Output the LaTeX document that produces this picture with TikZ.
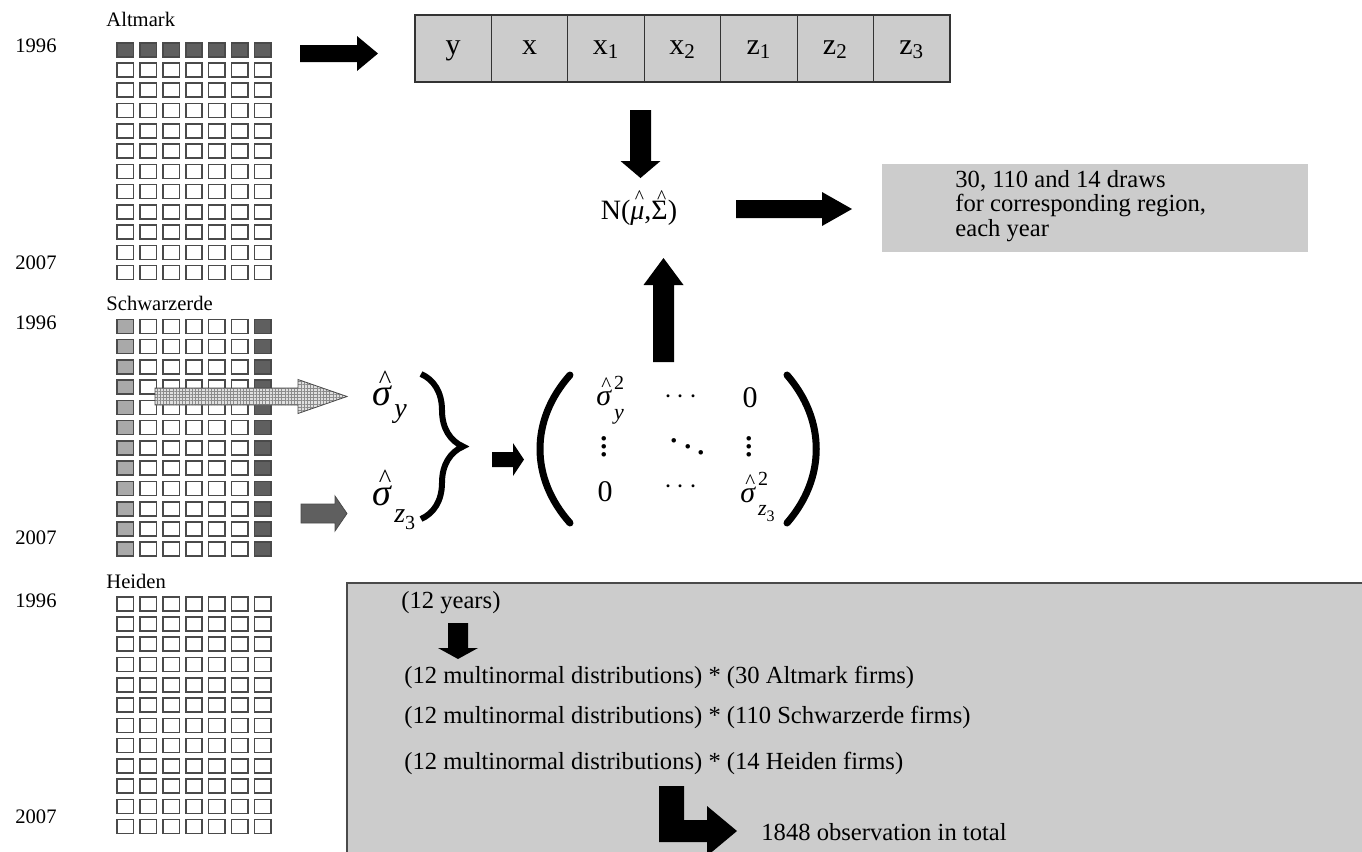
\documentclass[tikz,border=0pt]{standalone}
\usepackage{fontspec}
\usepackage{graphicx}
\setmainfont{Liberation Serif}
\usetikzlibrary{decorations.pathreplacing,patterns.meta}

\definecolor{boxgray}{HTML}{CCCCCC}
\definecolor{darkcell}{HTML}{5F5F5F}
\definecolor{lightcell}{HTML}{A9A9A9}
\definecolor{edgegray}{HTML}{4A4A4A}

\newcommand{\sz}[1]{\fontsize{#1}{#1}\selectfont}
% caret set over a letter
\newcommand{\hatted}[2][0.46em]{{\ooalign{\hfil\kern0.14em\raisebox{#1}{\scalebox{0.7}{\textasciicircum}}\hfil\cr#2\cr}}}
% superscript stacked over subscript
\newcommand{\subsup}[2]{\rlap{\raisebox{0.55em}{\sz{10}#1}}\raisebox{-0.45em}{\sz{11}#2}}

% block arrows: [style]{start}{tip}{head base}{centre}{half shaft}{half head}
\newcommand{\harrow}[7][fill=black]{%
  \path[#1] (#2,{#5-#6}) -- (#4,{#5-#6}) -- (#4,{#5-#7}) -- (#3,#5)
    -- (#4,{#5+#7}) -- (#4,{#5+#6}) -- (#2,{#5+#6}) -- cycle;}
\newcommand{\varrow}[7][fill=black]{%
  \path[#1] ({#2-#6},#3) -- ({#2-#6},#5) -- ({#2-#7},#5) -- (#2,#4)
    -- ({#2+#7},#5) -- ({#2+#6},#5) -- ({#2+#6},#3) -- cycle;}

\tikzset{
  firm/.style={draw=edgegray, line width=0.8pt, fill=white},
  yearlbl/.style={anchor=west, inner sep=0, font=\sz{10.3}},
  txt/.style={anchor=west, inner sep=0, font=\fontsize{12.3}{12.25}\selectfont},
  cell/.style={draw=black!80, line width=0.6pt, fill=boxgray, minimum width=38.2pt,
    minimum height=33.5pt, inner sep=0, text height=1.2ex, text depth=0pt, font=\sz{15}},
  entry/.style={inner sep=0, font=\sz{15}},
  dots/.style={inner sep=0, font=\sz{19}},
  hatched/.style={draw=edgegray, line width=0.4pt, preaction={fill=black!12},
    pattern={Hatch[distance=1.6pt, angle=0, line width=0.3pt]}, pattern color=black!45},
  darkarrow/.style={draw=edgegray, line width=0.4pt, fill=darkcell},
  paren/.style={line width=3.5pt, line cap=round},
  bigbrace/.style={decorate, decoration={brace, amplitude=21pt}, line width=3pt}
}

\begin{document}
\begin{tikzpicture}[x=0.5pt,y=-0.5pt]
  \useasboundingbox (0,0) rectangle (1362,852);
  \clip (0,0) rectangle (1362,852);

  % region panels: firms by year
  \foreach \top in {42.7,319.3,596.7}
    \foreach \r in {0,...,11}
      \foreach \c in {0,...,6}
        \draw[firm] ({117+22.9*\c},{\top+20.27*\r}) rectangle +(16.5,14);
  \foreach \c in {0,...,6}
    \draw[firm, fill=darkcell] ({117+22.9*\c},42.7) rectangle +(16.5,14);
  \foreach \r in {0,...,11} {
    \draw[firm, fill=lightcell] (117,{319.3+20.27*\r}) rectangle +(16.5,14);
    \draw[firm, fill=darkcell] ({117+22.9*6},{319.3+20.27*\r}) rectangle +(16.5,14);
  }

  \node[yearlbl] (altmark) at (106,19) {Altmark};
  \node[yearlbl] (alt96) at (15,46) {1996};
  \node[yearlbl] (alt07) at (15,263) {2007};
  \node[yearlbl] (schwarz) at (106,303) {Schwarzerde};
  \node[yearlbl] (sch96) at (15,323) {1996};
  \node[yearlbl] (sch07) at (15,538) {2007};
  \node[yearlbl] (heiden) at (106,581) {Heiden};
  \node[yearlbl] (hei96) at (15,601) {1996};
  \node[yearlbl] (hei07) at (15,817) {2007};

  % variables of one firm-year
  \foreach \lbl [count=\i] in {y, x, x\textsubscript{1}, x\textsubscript{2},
      z\textsubscript{1}, z\textsubscript{2}, z\textsubscript{3}}
    \node[cell] (var\i) at ({415+76.43*(\i-0.5)},48.5) {\lbl};

  \harrow{300}{378}{357}{53.5}{8.5}{17.5}
  \varrow{640.5}{110}{178}{161}{10.5}{20}

  \node[inner sep=0, font=\sz{14}] (normal) at (639,208)
    {N(\hatted[0.56em]{\textit{μ}},\hatted[0.56em]{Σ})};
  \harrow{736}{852}{822}{209}{9}{17}

  \node[fill=boxgray, anchor=north west, minimum width=213pt, minimum height=44pt,
    inner sep=0] (draws) at (882,164) {};
  \node[txt, align=left] (drawtext) at (955,206)
    {30, 110 and 14 draws\\for corresponding region,\\each year};

  % standard deviations per variable
  \harrow[hatched]{155}{347}{298}{396.5}{8.5}{17}
  \harrow[darkarrow]{301}{347}{335}{513.5}{9.5}{17.5}
  \node[anchor=west, inner sep=0, font=\sz{19}] (sigy) at (372,397)
    {\hatted{\textit{σ}}\kern1pt\raisebox{-0.3em}{\sz{14}\textit{y}}};
  \node[anchor=west, inner sep=0, font=\sz{19}] (sigz) at (372,500)
    {\hatted{\textit{σ}}\kern1pt\raisebox{-0.45em}{\sz{14}\textit{z}\raisebox{-0.25em}{\sz{10}3}}};
  \draw[bigbrace] (421,374) -- (421,519);
  \harrow{492}{524}{513}{459.5}{7.5}{16.5}

  % diagonal covariance matrix
  \draw[paren] (570,375) .. controls (530,420) and (530,478) .. (570,523);
  \draw[paren] (787,375) .. controls (826,420) and (826,478) .. (787,523);
  \node[entry, anchor=west] (m11) at (596,400)
    {\hatted{\textit{σ}}\kern1pt\subsup{2}{\textit{y}}};
  \node[entry] (m12) at (681,397) {$\cdots$};
  \node[entry] (m13) at (750,398) {0};
  \node[dots] (m21) at (604,441) {$\vdots$};
  \node[dots] (m22) at (688,441) {$\ddots$};
  \node[dots] (m23) at (749,441) {$\vdots$};
  \node[entry] (m31) at (605,492) {0};
  \node[entry] (m32) at (681,487) {$\cdots$};
  \node[entry, anchor=west] (m33) at (740,497)
    {\hatted{\textit{σ}}\kern1pt\subsup{2}{\textit{z}\raisebox{-0.25em}{\sz{8}3}}};
  \varrow{663.5}{362}{258}{285}{10.5}{20}

  % resulting sample
  \draw[draw=edgegray, line width=0.8pt, fill=boxgray] (347,583) rectangle (1420,920);
  \node[txt] (years) at (401,603) {(12 years)};
  \varrow{458}{623}{659}{648}{10}{20}
  \node[txt] (altfirms) at (404,677)
    {(12 multinormal distributions) * (30 Altmark firms)};
  \node[txt] (schfirms) at (404,717)
    {(12 multinormal distributions) * (110 Schwarzerde firms)};
  \node[txt] (heifirms) at (404,763)
    {(12 multinormal distributions) * (14 Heiden firms)};
  \fill (659,786) -- (684,786) -- (684,820) -- (707,820) -- (707,806) -- (737,831)
    -- (707,856) -- (707,842) -- (659,842) -- cycle;
  \node[txt] (total) at (761,832) {1848 observation in total};
\end{tikzpicture}
\end{document}
